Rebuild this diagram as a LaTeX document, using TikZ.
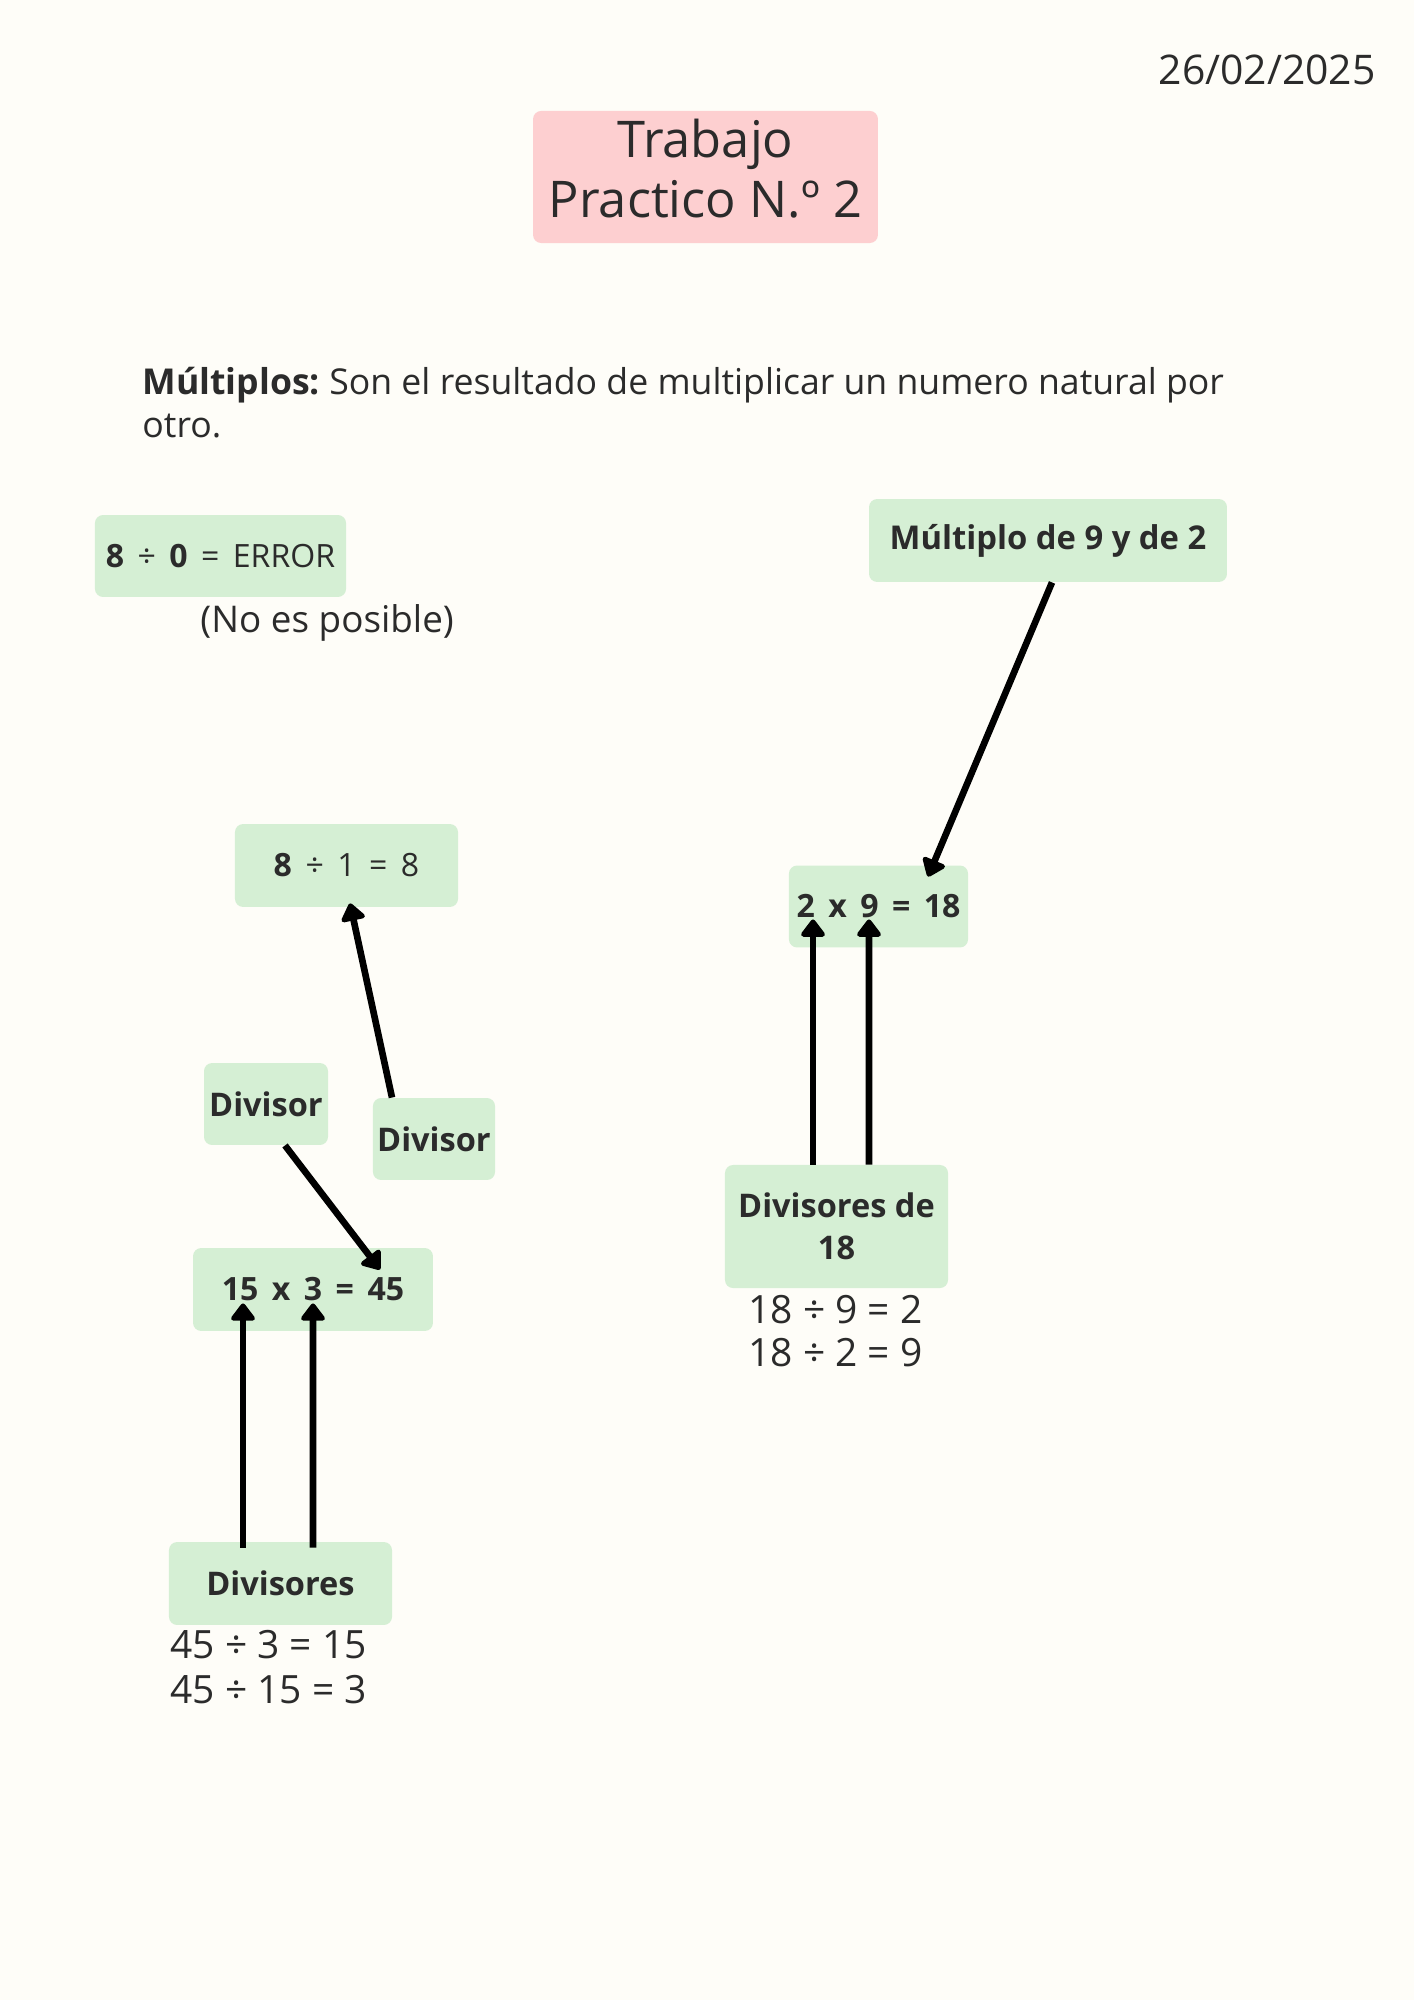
\documentclass[tikz,border=0pt]{standalone}
\usepackage{fontspec}
\setmainfont{Open Sans}
\usetikzlibrary{arrows.meta,calc}
\frenchspacing

\definecolor{papel}{HTML}{FEFDF8}
\definecolor{menta}{HTML}{D5EFD4}
\definecolor{rosa}{HTML}{FDCFD0}
\definecolor{tinta}{HTML}{2B2B2B}

\tikzset{
  caja/.style={fill=menta, rounded corners=3.4pt, inner sep=0pt, text=tinta,
    font=\fontsize{13.7}{17.5}\bfseries, align=center},
  cuenta/.style={execute at begin node={\spaceskip=0.42em\relax}},
  texto/.style={inner sep=0pt, text=tinta},
  flecha/.style={line width=2.8pt, black, -{Triangle[length=8pt,width=11.5pt,round]}}
}

\begin{document}
\begin{tikzpicture}[x=0.421pt,y=-0.421pt]
\useasboundingbox[fill=papel] (0,0) rectangle (1414,2000);

% cabecera
\node[texto, anchor=east, font=\fontsize{17.2}{21}\selectfont] (fecha) at (1376,70) {26/02/2025};
\node[caja, fill=rosa, minimum width=145.2pt, minimum height=55.6pt, text depth=7.2pt,
  font=\fontsize{21.3}{25.5}\selectfont] (titulo) at (705.5,177) {Trabajo\\Practico N.º 2};

\node[texto, anchor=base west, align=left, font=\fontsize{15}{18.3}\selectfont] (def) at (142,438)
  {\textbf{Múltiplos:} Son el resultado de multiplicar un numero natural por\\otro.};

% division por cero
\node[caja, cuenta, minimum width=105.7pt, minimum height=34.5pt, font=\fontsize{13.5}{17}\selectfont] (error) at (220.5,556)
  {\textbf{8} ÷ \textbf{0} = ERROR};
\node[texto, anchor=base west, font=\fontsize{15.5}{19}\selectfont] (noposible) at (200,633) {(No es posible)};

% parte izquierda
\node[caja, cuenta, minimum width=93.9pt, minimum height=34.9pt, font=\fontsize{13.5}{17}\selectfont] (uno) at (346.5,865.5) {\textbf{8} ÷ 1 = 8};
\node[caja, minimum width=52.2pt, minimum height=34.5pt] (divA) at (266,1104) {Divisor};
\node[caja, minimum width=51.4pt, minimum height=34.5pt] (divB) at (434,1139) {Divisor};
\node[caja, cuenta, minimum width=101pt, minimum height=34.9pt, font=\fontsize{13.5}{17}\bfseries] (prod45) at (313,1289.5) {15 x 3 = 45};
\node[caja, minimum width=93.9pt, minimum height=34.9pt] (div45) at (280.5,1583.5) {Divisores};
\node[texto, anchor=base west, font=\fontsize{16.4}{19}\selectfont] (cuenta45a) at (170,1658) {45 ÷ 3 = 15};
\node[texto, anchor=base west, font=\fontsize{16.4}{19}\selectfont] (cuenta45b) at (170,1703) {45 ÷ 15 = 3};

\draw[flecha] ($(divB.north)+(-42,0)$) -- ($(uno.south)+(3.5,-4)$);
\draw[flecha] ($(divA.south)+(19,0)$) -- ($(prod45.north)+(67,22)$);
\draw[flecha] ($(div45.north)+(-37.5,6)$) -- ($(prod45.south)+(-70,-28)$);
\draw[flecha] ($(div45.north)+(32.5,6)$) -- ($(prod45.south)+(0,-28)$);

% parte derecha
\node[caja, minimum width=150.7pt, minimum height=34.9pt, font=\fontsize{13.8}{17.5}\bfseries] (multiplo) at (1048,540.5) {Múltiplo de 9 y de 2};
\node[caja, cuenta, minimum width=75.4pt, minimum height=34.5pt, font=\fontsize{13.5}{17}\bfseries] (prod18) at (878.5,906.5) {2 x 9 = 18};
\node[caja, minimum width=93.9pt, minimum height=51.8pt] (div18) at (836.5,1226.5) {Divisores de\\18};
\node[texto, anchor=base, font=\fontsize{16.4}{19}\selectfont] (cuenta18a) at (835.5,1323.5) {18 ÷ 9 = 2};
\node[texto, anchor=base, font=\fontsize{16.4}{19}\selectfont] (cuenta18b) at (835.5,1366.5) {18 ÷ 2 = 9};

\draw[flecha] ($(multiplo.south)+(4,0)$) -- ($(prod18.north)+(49.5,11.5)$);
\draw[flecha] ($(div18.north)+(-23.5,0)$) -- ($(prod18.south)+(-65.5,-28.5)$);
\draw[flecha] ($(div18.north)+(32.5,0)$) -- ($(prod18.south)+(-9.5,-28.5)$);

\end{tikzpicture}
\end{document}
